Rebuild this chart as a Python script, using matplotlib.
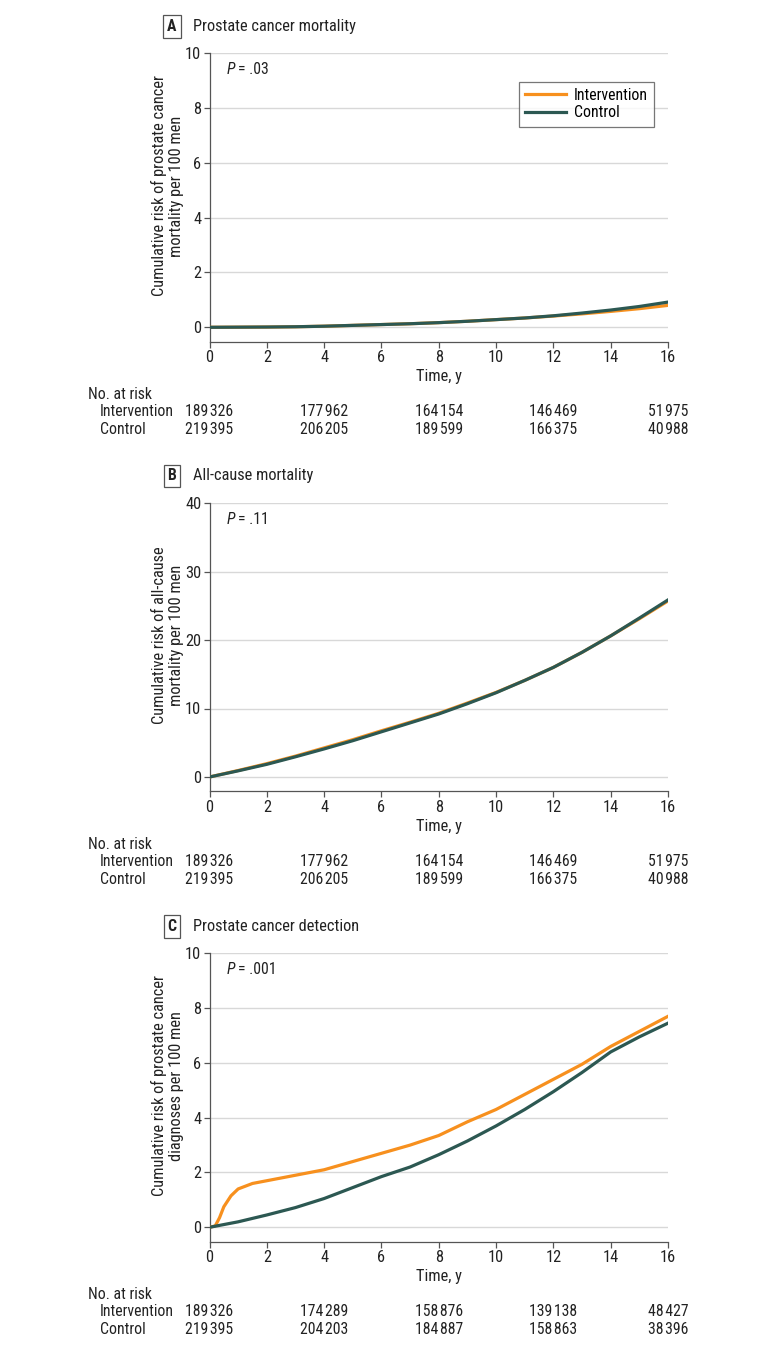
import matplotlib
matplotlib.use('Agg')
import matplotlib.pyplot as plt
import matplotlib.transforms as mtransforms

plt.rcParams['font.family'] = ['Roboto Condensed', 'DejaVu Sans']
plt.rcParams['font.stretch'] = 'condensed'

ORANGE = '#F7901E'
TEAL = '#2C5852'
TXT = '#222222'

years = [0, 1, 2, 3, 4, 5, 6, 7, 8, 9, 10, 11, 12, 13, 14, 15, 16]

# A - prostate cancer mortality
a_int = [0, 0.005, 0.01, 0.02, 0.04, 0.07, 0.10, 0.13, 0.17, 0.22, 0.28, 0.34, 0.41, 0.49, 0.58, 0.68, 0.80]
a_ctl = [0, 0.005, 0.01, 0.02, 0.04, 0.07, 0.10, 0.13, 0.17, 0.22, 0.28, 0.34, 0.42, 0.52, 0.63, 0.76, 0.92]

# B - all-cause mortality
b_int = [0, 0.95, 1.95, 3.05, 4.25, 5.45, 6.75, 8.0, 9.3, 10.8, 12.35, 14.1, 16.0, 18.2, 20.6, 23.1, 25.7]
b_ctl = [0, 0.9, 1.85, 2.95, 4.1, 5.3, 6.6, 7.9, 9.2, 10.7, 12.3, 14.1, 16.0, 18.2, 20.6, 23.2, 25.85]

# C - prostate cancer detection
c_years_int = [0, 0.2, 0.35, 0.5, 0.75, 1, 1.5, 2, 3, 4, 5, 6, 7, 8, 9, 10, 11, 12, 13, 14, 15, 16]
c_int = [0, 0.05, 0.35, 0.75, 1.15, 1.4, 1.6, 1.7, 1.9, 2.1, 2.4, 2.7, 3.0, 3.35, 3.85, 4.3, 4.85, 5.4, 5.95, 6.6, 7.15, 7.7]
c_ctl = [0, 0.2, 0.45, 0.72, 1.05, 1.45, 1.85, 2.2, 2.65, 3.15, 3.7, 4.3, 4.95, 5.65, 6.4, 6.95, 7.45]

risk_times = [0, 4, 8, 12, 16]
risk_ab_int = [189326, 177962, 164154, 146469, 51975]
risk_ab_ctl = [219395, 206205, 189599, 166375, 40988]
risk_c_int = [189326, 174289, 158876, 139138, 48427]
risk_c_ctl = [219395, 204203, 184887, 158863, 38396]

panels = [
    dict(letter='A', title='Prostate cancer mortality',
         ylabel='Cumulative risk of prostate cancer\nmortality per 100 men',
         x_int=years, y_int=a_int, y_ctl=a_ctl, ymax=10, ystep=2, pval='.03',
         r_int=risk_ab_int, r_ctl=risk_ab_ctl, legend=True),
    dict(letter='B', title='All-cause mortality',
         ylabel='Cumulative risk of all-cause\nmortality per 100 men',
         x_int=years, y_int=b_int, y_ctl=b_ctl, ymax=40, ystep=10, pval='.11',
         r_int=risk_ab_int, r_ctl=risk_ab_ctl, legend=False),
    dict(letter='C', title='Prostate cancer detection',
         ylabel='Cumulative risk of prostate cancer\ndiagnoses per 100 men',
         x_int=c_years_int, y_int=c_int, y_ctl=c_ctl, ymax=10, ystep=2, pval='.001',
         r_int=risk_c_int, r_ctl=risk_c_ctl, legend=False),
]

W, H = 780, 1349
fig = plt.figure(figsize=(W / 100, H / 100), dpi=100)

ax_left, ax_right = 209.5, 668
ax_tops = [53.3, 503, 953.3]
ax_h = 288.4
FS = 11.3


def fmt(n):
    return f'{n:,}'.replace(',', '\u200a')


for p, top in zip(panels, ax_tops):
    ax = fig.add_axes([ax_left / W, 1 - (top + ax_h) / H,
                       (ax_right - ax_left) / W, ax_h / H])
    px_per_unit = (ax_h - 14.4) / p['ymax']
    ax.set_ylim(-14.4 / px_per_unit, p['ymax'])
    ax.set_xlim(0, 16)

    ax.plot(p['x_int'], p['y_int'], color=ORANGE, lw=2.3, label='Intervention', zorder=3)
    ax.plot(years, p['y_ctl'], color=TEAL, lw=2.3, label='Control', zorder=4)

    yt = list(range(0, p['ymax'] + 1, p['ystep']))
    ax.set_yticks(yt)
    ax.set_xticks(range(0, 17, 2))
    for y in yt:
        ax.axhline(y, color='#D8D8D8', lw=1.0, zorder=1)

    for s in ['top', 'right']:
        ax.spines[s].set_visible(False)
    for s in ['left', 'bottom']:
        ax.spines[s].set_color('#555555')
        ax.spines[s].set_linewidth(0.9)
    ax.tick_params(axis='both', direction='out', length=4, width=0.9, color='#555555',
                   labelsize=FS + 0.5, labelcolor=TXT, pad=2)

    ax.set_xlabel('Time, y', fontsize=FS + 0.5, color=TXT, labelpad=3)
    ax.set_ylabel(p['ylabel'], fontsize=FS + 0.5, color=TXT, linespacing=1.15)
    ax.yaxis.set_label_coords(-0.056, 0.54)

    ptxt = ax.text(0.038, 0.943, 'P', transform=ax.transAxes, fontsize=FS,
                   style='italic', color=TXT, va='center', ha='left')
    ax.annotate('\u2009= ' + p['pval'], xy=(1, 0.5), xycoords=ptxt, va='center',
                ha='left', fontsize=FS, color=TXT)

    if p['legend']:
        leg = ax.legend(loc='upper right', bbox_to_anchor=(0.9695, 0.9015),
                        frameon=True, fancybox=False, fontsize=FS, handlelength=2.6,
                        borderpad=0.4, labelspacing=0.15, handletextpad=0.5,
                        borderaxespad=0)
        leg.get_frame().set_edgecolor('#555555')
        leg.get_frame().set_linewidth(0.9)

    # panel title
    fig.text(172 / W, 1 - (top - 27) / H, p['letter'], fontsize=FS, fontweight='bold',
             ha='center', va='center', color=TXT,
             bbox=dict(boxstyle='square,pad=0.25', fc='white', ec='#555555', lw=0.9))
    fig.text(193 / W, 1 - (top - 27) / H, p['title'], fontsize=FS + 0.5, ha='left',
             va='center', color=TXT)

    # number at risk table
    base = top + ax_h
    fig.text(88 / W, 1 - (base + 53) / H, 'No. at risk', fontsize=FS, va='center',
             color=TXT)
    fig.text(100 / W, 1 - (base + 70) / H, 'Intervention', fontsize=FS, va='center',
             color=TXT)
    fig.text(100 / W, 1 - (base + 88) / H, 'Control', fontsize=FS, va='center',
             color=TXT)
    xtr = mtransforms.blended_transform_factory(ax.transData, fig.transFigure)
    for t, ni, nc in zip(risk_times, p['r_int'], p['r_ctl']):
        ax.text(t, 1 - (base + 70) / H, fmt(ni), transform=xtr, ha='center',
                va='center', fontsize=FS, color=TXT)
        ax.text(t, 1 - (base + 88) / H, fmt(nc), transform=xtr, ha='center',
                va='center', fontsize=FS, color=TXT)

fig.savefig('out.png', dpi=100, facecolor='white')
